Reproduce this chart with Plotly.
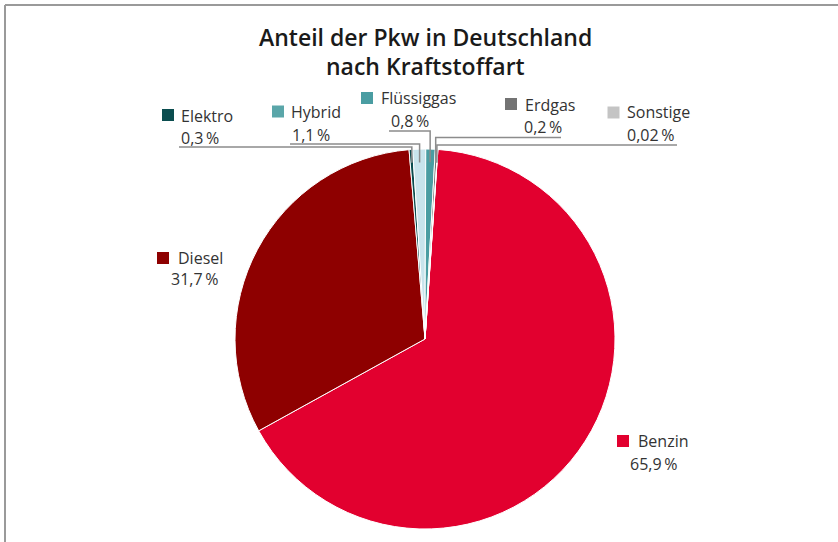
import math
import plotly.graph_objects as go

# ---- data ----
categories = ["Benzin", "Diesel", "Elektro", "Hybrid", "Flüssiggas", "Erdgas", "Sonstige"]
shares = [65.9, 31.7, 0.3, 1.1, 0.8, 0.2, 0.02]
slice_colors = ["#E2002F", "#8E0000", "#0B4D4F", "#C8E4EC", "#4A9DA2", "#737373", "#C4C4C4"]
key_colors = ["#E2002F", "#8E0000", "#0B4D4F", "#5AA6A9", "#4A9DA2", "#737373", "#C4C4C4"]
title_lines = ["Anteil der Pkw in Deutschland", "nach Kraftstoffart"]

# ---- layout (pixels) ----
W, H = 838, 542
CX, CY, R = 425, 339, 190
ROT = 3.9
FONT = "Open Sans"
MK = 12
# marker left x, marker top y, name x, name y, value x, value y, underline x, underline y
label_pos = {
    "Benzin": (617, 435, 636, 441, 628, 464, None, None),
    "Diesel": (157, 252, 176, 258, 169, 279, None, None),
    "Elektro": (162, 109, 179, 116, 179, 138, 179, 147),
    "Hybrid": (272, 105.5, 289, 112, 290, 135, 290, 144),
    "Flüssiggas": (361, 92, 379, 98, 389, 121, 389, 131),
    "Erdgas": (505, 98, 523, 104.5, 522, 127, 561, 137.5),
    "Sonstige": (607.5, 106.5, 625, 112, 625, 134.5, 677, 145),
}


def px(x):
    return x / W


def py(y):
    return 1 - y / H


fig = go.Figure(
    go.Pie(
        labels=categories,
        values=shares,
        sort=False,
        direction="clockwise",
        rotation=ROT,
        marker=dict(colors=slice_colors, line=dict(color="white", width=1)),
        textinfo="none",
        hoverinfo="label+percent",
        domain=dict(x=[px(CX - R), px(CX + R)], y=[py(CY + R), py(CY - R)]),
    )
)

shapes = []
annotations = []
total = sum(shares)
cum = 0.0
lab_font = dict(family=FONT, size=16, color="#333333")
for name, v, kc in zip(categories, shares, key_colors):
    mid = ROT + (cum + v / 2) / total * 360
    cum += v
    mx, my, nx, ny, vx, vy, lx, ly = label_pos[name]
    val = str(v).replace(".", ",")
    shapes.append(dict(type="rect", xref="paper", yref="paper",
                       x0=px(mx), x1=px(mx + MK), y0=py(my + MK), y1=py(my),
                       fillcolor=kc, line=dict(width=0)))
    annotations.append(dict(x=px(nx), y=py(ny), xref="paper", yref="paper",
                            xanchor="left", yanchor="middle", showarrow=False,
                            text=name, font=lab_font))
    annotations.append(dict(x=px(vx), y=py(vy), xref="paper", yref="paper",
                            xanchor="left", yanchor="middle", showarrow=False,
                            text=f"{val}\u2009%", font=lab_font))
    if lx is not None:
        a = math.radians(mid)
        rr = R * 0.93
        axp = CX + rr * math.sin(a)
        ayp = CY - rr * math.cos(a)
        shapes.append(dict(type="path", xref="paper", yref="paper",
                           path=f"M {px(lx)} {py(ly)} L {px(axp)} {py(ly)} L {px(axp)} {py(ayp)}",
                           line=dict(color="#8C8C8C", width=1.5)))

# frame
shapes.append(dict(type="line", xref="paper", yref="paper", x0=px(5), x1=px(838), y0=py(5), y1=py(5),
                   line=dict(color="#9A9A9A", width=2)))
shapes.append(dict(type="line", xref="paper", yref="paper", x0=px(5), x1=px(5), y0=py(5), y1=py(542),
                   line=dict(color="#9A9A9A", width=2)))

for txt, ty in zip(title_lines, [37, 66]):
    annotations.append(dict(
        x=px(425), y=py(ty), xref="paper", yref="paper", xanchor="center", yanchor="middle",
        showarrow=False, text=txt,
        font=dict(family=FONT, size=23, color="#1A1A1A", weight=600),
    ))

fig.update_layout(
    width=W, height=H, margin=dict(l=0, r=0, t=0, b=0),
    paper_bgcolor="white", plot_bgcolor="white", showlegend=False,
    shapes=shapes, annotations=annotations,
)
fig.write_html("out.html", config={"displayModeBar": False},
               post_script="document.body.style.margin='0';document.body.style.overflow='hidden';")
